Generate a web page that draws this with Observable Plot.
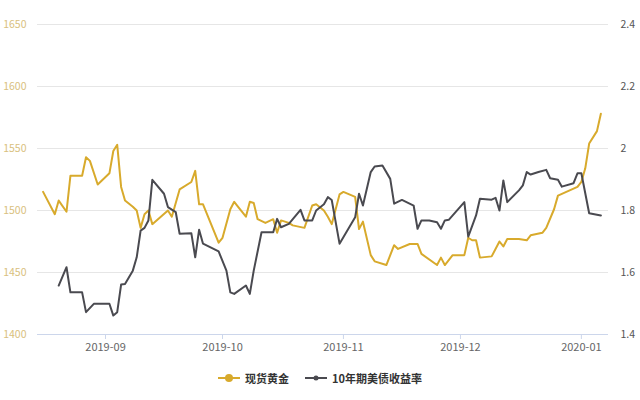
<!DOCTYPE html>
<html>
<head>
<meta charset="utf-8">
<script src="https://cdn.jsdelivr.net/npm/d3@7"></script>
<script src="https://cdn.jsdelivr.net/npm/@observablehq/plot@0.6"></script>
<style>
  html, body { margin: 0; padding: 0; background: #fff; }
  #wrap { position: relative; width: 640px; height: 365px; }
  #wrap svg { position: absolute; left: 0; top: 0; background: transparent; }
  #legend { width: 640px; height: 26px; display: flex; justify-content: center; align-items: center;
    font-family: "Noto Sans CJK SC", sans-serif; font-size: 11px; font-weight: bold; color: #333; gap: 16px; margin-top: 0px; }
  #legend span.item { display: inline-flex; align-items: center; gap: 5px; }
</style>
</head>
<body>
<div id="wrap"></div>
<div id="legend"></div>
<script>
// ---- Data ----
const seriesNames = ["现货黄金", "10年期美债收益率"];

const goldDates = [
  "2019-08-16","2019-08-19","2019-08-20","2019-08-22","2019-08-23","2019-08-26","2019-08-27","2019-08-28","2019-08-30",
  "2019-09-02","2019-09-03","2019-09-04","2019-09-05","2019-09-06","2019-09-08","2019-09-09","2019-09-10","2019-09-11",
  "2019-09-12","2019-09-13","2019-09-17","2019-09-18","2019-09-20","2019-09-23","2019-09-24","2019-09-25","2019-09-26",
  "2019-09-30","2019-10-01","2019-10-03","2019-10-04","2019-10-05","2019-10-07","2019-10-08","2019-10-09","2019-10-10",
  "2019-10-12","2019-10-14","2019-10-15","2019-10-16","2019-10-18","2019-10-19","2019-10-22","2019-10-24","2019-10-25",
  "2019-10-27","2019-10-28","2019-10-29","2019-10-31","2019-11-01","2019-11-04","2019-11-05","2019-11-06","2019-11-08",
  "2019-11-09","2019-11-12","2019-11-14","2019-11-15","2019-11-18","2019-11-20","2019-11-21","2019-11-25","2019-11-26",
  "2019-11-27","2019-11-29","2019-12-02","2019-12-03","2019-12-04","2019-12-05","2019-12-06","2019-12-09","2019-12-11",
  "2019-12-12","2019-12-13","2019-12-16","2019-12-18","2019-12-19","2019-12-22","2019-12-23","2019-12-25","2019-12-26",
  "2019-12-31","2020-01-01","2020-01-02","2020-01-03","2020-01-05","2020-01-06"
];
const goldValues = [
  1515,1497,1508,1499,1528,1528,1543,1540,1521,
  1530,1548,1553,1519,1508,1503,1500,1486,1497,
  1500,1489,1500,1495,1517,1523,1532,1505,1505,
  1474,1478,1501,1507,1503,1495,1507,1506,1493,
  1490,1493,1482,1492,1490,1488,1486,1504,1505,
  1500,1495,1489,1513,1515,1511,1485,1491,1464,
  1459,1456,1472,1469,1473,1473,1465,1456,1462,
  1456,1464,1464,1478,1476,1476,1462,1463,1475,
  1471,1477,1477,1476,1480,1482,1486,1501,1512,
  1519,1523,1534,1554,1564,1578
];

const yieldDates = [
  "2019-08-20","2019-08-22","2019-08-23","2019-08-26","2019-08-27","2019-08-29",
  "2019-09-02","2019-09-03","2019-09-04","2019-09-05","2019-09-06","2019-09-08","2019-09-09","2019-09-10","2019-09-11",
  "2019-09-12","2019-09-13","2019-09-16","2019-09-17","2019-09-19","2019-09-20","2019-09-23","2019-09-24","2019-09-25",
  "2019-09-26","2019-09-30","2019-10-02","2019-10-03","2019-10-04","2019-10-07","2019-10-08","2019-10-09","2019-10-11",
  "2019-10-14","2019-10-15","2019-10-16","2019-10-18","2019-10-21","2019-10-22","2019-10-24","2019-10-25","2019-10-27",
  "2019-10-28","2019-10-29","2019-10-31","2019-11-04","2019-11-05","2019-11-06","2019-11-08","2019-11-09","2019-11-11",
  "2019-11-13","2019-11-14","2019-11-16","2019-11-19","2019-11-20","2019-11-21","2019-11-23","2019-11-25","2019-11-26",
  "2019-11-27","2019-11-28","2019-12-02","2019-12-03","2019-12-05","2019-12-06","2019-12-09","2019-12-10","2019-12-11",
  "2019-12-12","2019-12-13","2019-12-16","2019-12-17","2019-12-18","2019-12-19","2019-12-21","2019-12-23","2019-12-24",
  "2019-12-26","2019-12-27","2019-12-30","2019-12-31","2020-01-01","2020-01-03","2020-01-06"
];
const yieldValues = [
  1.558,1.617,1.536,1.536,1.472,1.499,
  1.499,1.461,1.472,1.561,1.563,1.606,1.649,1.735,1.744,
  1.768,1.899,1.854,1.811,1.795,1.725,1.727,1.649,1.738,
  1.693,1.668,1.606,1.536,1.531,1.558,1.531,1.606,1.730,
  1.730,1.773,1.746,1.757,1.802,1.768,1.768,1.800,1.820,
  1.843,1.834,1.693,1.778,1.854,1.816,1.924,1.942,1.945,
  1.902,1.822,1.834,1.816,1.741,1.768,1.768,1.762,1.741,
  1.768,1.770,1.827,1.716,1.784,1.838,1.835,1.841,1.800,
  1.897,1.827,1.865,1.881,1.924,1.916,1.924,1.931,1.904,
  1.899,1.877,1.888,1.920,1.920,1.791,1.784
];

const leftTicks = [1400, 1450, 1500, 1550, 1600, 1650];
const rightTicks = [1.4, 1.6, 1.8, 2.0, 2.2, 2.4];
const monthTicks = ["2019-09-01", "2019-10-01", "2019-11-01", "2019-12-01", "2020-01-01"];
const xStart = "2019-08-14T13:30:00Z";
const xEnd = "2020-01-07T23:00:00Z";

const goldColor = "#d8aa2c";
const yieldColor = "#4a4a50";

// ---- Build tables ----
const gold = goldDates.map((d, i) => ({date: new Date(d), value: goldValues[i]}));
const yld = yieldDates.map((d, i) => ({date: new Date(d), value: yieldValues[i]}));

const W = 640, H = 365;
const margins = {marginLeft: 37, marginRight: 32, marginTop: 24, marginBottom: 31};
const fontFam = "'Noto Sans CJK SC', 'DejaVu Sans', sans-serif";
const xDomain = [new Date(xStart), new Date(xEnd)];

const p1 = Plot.plot({
  width: W, height: H, ...margins,
  style: {fontFamily: fontFam, fontSize: "11px", background: "transparent"},
  x: {type: "utc", domain: xDomain},
  y: {domain: [1400, 1650]},
  marks: [
    Plot.gridY(leftTicks, {stroke: "#e6e6e6", strokeOpacity: 1}),
    Plot.ruleY([1400], {stroke: "#ccd6eb", strokeWidth: 1}),
    Plot.axisX(monthTicks.map(d => new Date(d)), {tickSize: 5, stroke: "#ccd6eb", tickPadding: 4,
      tickFormat: d3.utcFormat("%Y-%m"), fill: "#666", label: null}),
    Plot.axisY(leftTicks, {anchor: "left", tickSize: 0, tickPadding: 11, fill: "#d9bf7e", label: null,
      tickFormat: d => String(d), fontSize: 10.5}),
    Plot.line(gold, {x: "date", y: "value", stroke: goldColor, strokeWidth: 2, curve: "linear"})
  ]
});

const p2 = Plot.plot({
  width: W, height: H, ...margins,
  style: {fontFamily: fontFam, fontSize: "11px", background: "transparent"},
  x: {type: "utc", domain: xDomain, axis: null},
  y: {domain: [1.4, 2.4]},
  marks: [
    Plot.axisY(rightTicks, {anchor: "right", tickSize: 0, tickPadding: 12, fill: "#555", label: null,
      tickFormat: d => String(+d.toFixed(1)), fontSize: 10.5}),
    Plot.line(yld, {x: "date", y: "value", stroke: yieldColor, strokeWidth: 2, curve: "linear"})
  ]
});

const wrap = document.getElementById("wrap");
wrap.appendChild(p1);
wrap.appendChild(p2);

// ---- Legend ----
const legend = document.getElementById("legend");
[[seriesNames[0], goldColor, 4], [seriesNames[1], yieldColor, 2.5]].forEach(([name, color, r]) => {
  const item = document.createElement("span");
  item.className = "item";
  item.innerHTML = `<svg width="22" height="12"><line x1="0" x2="22" y1="6" y2="6" stroke="${color}" stroke-width="2"/><circle cx="11" cy="6" r="${r}" fill="${color}"/></svg><span>${name}</span>`;
  legend.appendChild(item);
});
</script>
</body>
</html>
